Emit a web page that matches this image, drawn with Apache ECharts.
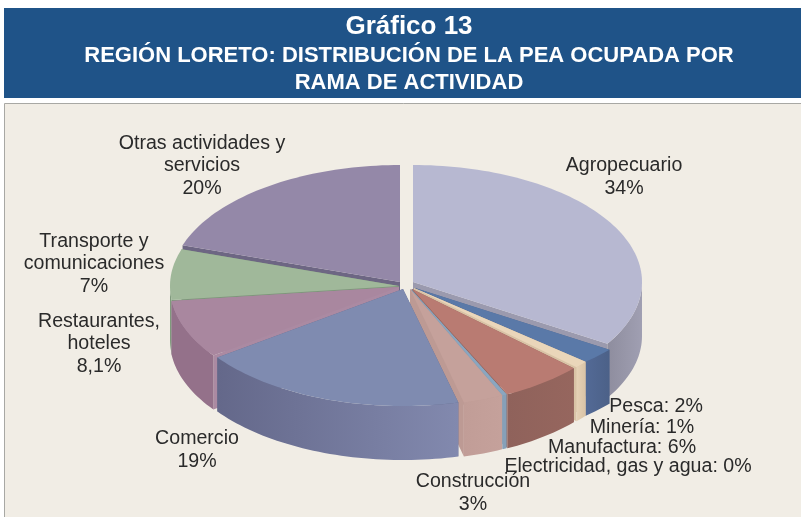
<!DOCTYPE html>
<html><head><meta charset="utf-8">
<style>html,body{margin:0;padding:0;background:#fff}#c{width:801px;height:517px}</style>
<script src="https://cdn.jsdelivr.net/npm/echarts@6/dist/echarts.min.js"></script>
</head><body><div id="c"></div>
<script>
// DATA
const categories = ['Agropecuario','Pesca','Minería','Manufactura','Electricidad, gas y agua','Construcción','Comercio','Restaurantes, hoteles','Transporte y comunicaciones','Otras actividades y servicios'];
const values = [34, 2, 1, 6, 0.3, 3, 19, 8.1, 7, 20];
const valueLabels = ['34%','2%','1%','6%','0%','3%','19%','8,1%','7%','20%'];

// STYLE / LAYOUT
const RX = 229, RY = 117, DEPTH = 54;
const apex = [[413,282],[415,288],[414,288],[412,289],[411,289],[410,289],[403,289],[399,287],[399,286],[400,282]];
// horizontal radius at the start and end of each slice (perspective squeeze of the front-right slices)
const sliceRx = [[RX,RX],[RX,220],[221,221],[220,219],[219,219],[220,223],[RX,RX],[RX,RX],[RX,RX],[RX,RX]];
const topColor = ['#b7b8d1','#5a79a8','#ead6ba','#b97b72','#8aa6c0','#c5a19b','#7f8bb0','#a9879f','#a0b89a','#9488a8'];
const wallColor = [['#a09fb2','#8e8d9e'],['#4c6188','#536a96'],['#d9c3a6','#e6d2b6'],['#96665e','#8f625b'],['#86a0b8','#86a0b8'],['#c5a19b','#c19d97'],['#64688a','#8289ae'],['#94718a','#94718a'],['#7f9a7c','#7f9a7c'],['#776e8a','#776e8a']];
const cutColor = ['#9b9aae','#4f668f','#d9c3a6','#8f625b','#86a0b8','#bd9a94','#64688a','#ab8aa2','#7f967c','#6d6683'];
const drawOrder = [9,8,0,7,1,2,3,4,5,6];
const labelLayout = [
  [624,177,'c'],[656,407,'s'],[642,428,'s'],[622,448,'s'],[628,467,'s'],
  [473,493,'c'],[197,450,'c'],[99,344,'c'],[94,264,'c'],[202,166,'c']
];
const labelNames = ['Agropecuario','Pesca','Minería','Manufactura','Electricidad, gas y agua','Construcción','Comercio','Restaurantes,\nhoteles','Transporte y\ncomunicaciones','Otras actividades y\nservicios'];

const total = values.reduce((a,b)=>a+b,0);
let acc = 0;
const spans = values.map(v=>{const s=acc/total*360; acc+=v; return [s,acc/total*360];});

function renderItem(params, api){
  const i = api.value(0), [s,e] = spans[i], c = apex[i], kids = [];
  const rxAt = deg => sliceRx[i][0] + (sliceRx[i][1]-sliceRx[i][0])*(deg-s)/(e-s);
  const pt = (deg,dy)=>{const t=deg*Math.PI/180; return [c[0]+rxAt(deg)*Math.sin(t), c[1]-RY*Math.cos(t)+(dy||0)];};
  const arc = (a,b,dy)=>{const n=Math.max(2,Math.ceil(Math.abs(b-a)/1.5)),o=[];for(let k=0;k<=n;k++)o.push(pt(a+(b-a)*k/n,dy));return o;};
  const cut = deg=>{const p=pt(deg);return {type:'polygon',shape:{points:[c,p,[p[0],p[1]+DEPTH],[c[0],c[1]+DEPTH]]},style:{fill:cutColor[i]}};};
  kids.push(cut(s)); kids.push(cut(e));
  const a = Math.max(s,90), b = Math.min(e,270);
  if (b>a){
    const pts = arc(a,b,0).concat(arc(b,a,DEPTH));
    kids.push({type:'polygon',shape:{points:pts},style:{fill:new echarts.graphic.LinearGradient(0,0,1,0,[{offset:0,color:wallColor[i][b<=180?1:0]},{offset:1,color:wallColor[i][b<=180?0:1]}])}});
  }
  kids.push({type:'polygon',shape:{points:[c].concat(arc(s,e,0))},style:{fill:topColor[i]}});
  return {type:'group',children:kids};
}

const labelEls = categories.map((_,i)=>{
  const [x,y,mode]=labelLayout[i];
  const text = mode==='s' ? labelNames[i]+': '+valueLabels[i] : labelNames[i]+'\n'+valueLabels[i];
  return {type:'text',z:10,silent:true,x:x,y:y,style:{text:text,fill:'#2a2a2a',font:'19.6px "Liberation Sans", Arial, sans-serif',lineHeight:22.5,align:'center',verticalAlign:'middle'}};
});

const chart = echarts.init(document.getElementById('c'),null,{renderer:'canvas'});
chart.setOption({
  animation:false,
  backgroundColor:'#ffffff',
  title:{left:404,top:9,textAlign:'center',z:8,
    text:'Gráfico 13',
    textStyle:{color:'#fff',fontFamily:'"Liberation Sans", Arial, sans-serif',fontWeight:'bold',fontSize:26},
    subtext:'REGIÓN LORETO: DISTRIBUCIÓN DE LA PEA OCUPADA POR\nRAMA DE ACTIVIDAD',
    itemGap:2,
    subtextStyle:{color:'#fff',fontFamily:'"Liberation Sans", Arial, sans-serif',fontWeight:'bold',fontSize:22,lineHeight:27,align:'center'}},
  graphic:[
    {type:'rect',z:0,silent:true,shape:{x:4,y:8,width:797,height:90},style:{fill:'#1f5388'}},
    {type:'rect',z:0,silent:true,shape:{x:4.5,y:103.5,width:800,height:420},style:{fill:'#f1ede5',stroke:'#a8a8a4',lineWidth:1}}
  ].concat(labelEls),
  series:[{type:'custom',coordinateSystem:'none',silent:true,z:5,clip:false,
    renderItem:renderItem,
    encode:{value:1},
    data:drawOrder.map(i=>({name:categories[i],value:[i,values[i]]}))
  }]
});
</script></body></html>
